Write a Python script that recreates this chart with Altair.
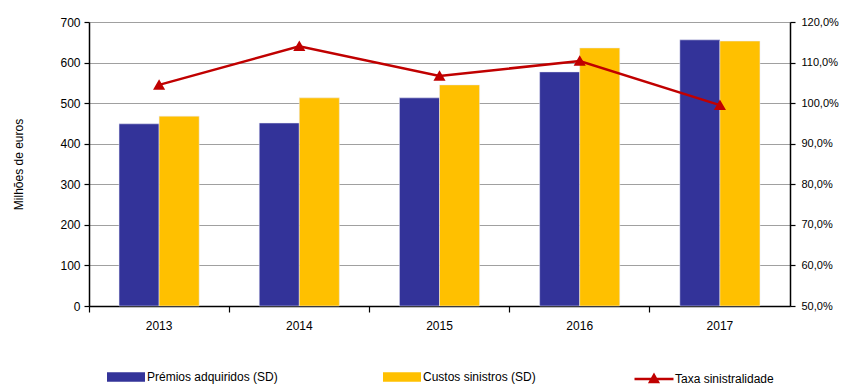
import altair as alt
import pandas as pd

years = ["2013", "2014", "2015", "2016", "2017"]
premios = [449, 451, 513, 577, 656]
custos = [468, 513, 545, 636, 653]
taxa = [1.045, 1.140, 1.067, 1.104, 0.995]

s_prem = "Prémios adquiridos (SD)"
s_cust = "Custos sinistros (SD)"
s_taxa = "Taxa sinistralidade"

bars_df = pd.DataFrame({
    "ano": years * 2,
    "serie": [s_prem] * len(years) + [s_cust] * len(years),
    "valor": premios + custos,
})
line_df = pd.DataFrame({"ano": years, "taxa": taxa, "serie": [s_taxa] * len(years)})

FONT = "Liberation Sans"

x_enc = alt.X(
    "ano:N",
    title=None,
    scale=alt.Scale(paddingInner=0, paddingOuter=0),
    axis=alt.Axis(
        labelAngle=0, bandPosition=0, labelOffset=0, tickSize=6,
        domainColor="black", tickColor="black", labelPadding=8,
        labelFontSize=12, labelColor="black", labelFont=FONT,
    ),
)

bars = alt.Chart(bars_df).mark_bar(stroke="#e8e8f4", strokeWidth=0.5).encode(
    x=x_enc,
    xOffset=alt.XOffset("serie:N", sort=[s_prem, s_cust],
                        scale=alt.Scale(paddingOuter=0.75, paddingInner=0)),
    y=alt.Y(
        "valor:Q",
        title="Milhões de euros",
        scale=alt.Scale(domain=[0, 700], nice=False),
        axis=alt.Axis(
            values=[0, 100, 200, 300, 400, 500, 600, 700], grid=True,
            gridColor="#a0a0a0", gridWidth=1.2, domainColor="black",
            tickColor="black", tickSize=5, labelFontSize=12, labelColor="black",
            labelFont=FONT, titleFont=FONT, titleFontSize=12,
            titleFontWeight="normal", titleColor="black", titlePadding=34,
            labelPadding=4,
        ),
    ),
    color=alt.Color(
        "serie:N",
        sort=[s_prem, s_cust],
        scale=alt.Scale(domain=[s_prem, s_cust], range=["#333399", "#FFC000"]),
        legend=alt.Legend(
            title=None, orient="none", direction="horizontal", columns=2,
            legendX=18, legendY=336, symbolType="M-1,-0.25L1,-0.25L1,0.25L-1,0.25Z",
            symbolSize=1444, symbolStrokeWidth=0, labelFontSize=12, labelFont=FONT,
            labelColor="black", labelOffset=2, columnPadding=105, padding=0,
            labelLimit=300,
        ),
    ),
)

line = alt.Chart(line_df).mark_line(
    color="#C00000", strokeWidth=2.5,
    point=alt.OverlayMarkDef(shape="triangle-up", size=75, filled=True, color="#C00000"),
).encode(
    x=x_enc,
    y=alt.Y(
        "taxa:Q",
        title=None,
        scale=alt.Scale(domain=[0.5, 1.2], nice=False, zero=False),
        axis=alt.Axis(
            orient="right", values=[0.5, 0.6, 0.7, 0.8, 0.9, 1.0, 1.1, 1.2],
            labelExpr="replace(format(datum.value, '.1%'), '.', ',')",
            grid=False, domainColor="black", tickColor="black", tickSize=5,
            labelFontSize=11, labelColor="black", labelFont=FONT, labelPadding=6,
        ),
    ),
    stroke=alt.Stroke(
        "serie:N",
        scale=alt.Scale(domain=[s_taxa], range=["#C00000"]),
        legend=alt.Legend(
            title=None, orient="none", legendX=544, legendY=336,
            symbolType="M-1,0L1,0M-0.2,0.15L0,-0.2L0.2,0.15Z",
            symbolSize=1521, symbolStrokeWidth=2.5, symbolFillColor="#C00000",
            labelFontSize=12, labelFont=FONT, labelColor="black", labelOffset=0,
            padding=0,
        ),
    ),
)

chart = alt.layer(bars, line).resolve_scale(
    y="independent", color="independent"
).properties(
    width=701, height=284,
    autosize=alt.AutoSizeParams(type="none"),
    padding={"left": 81, "top": 14, "right": 50, "bottom": 79},
).configure_view(stroke=None).configure_axis(domainWidth=1.5, tickWidth=1.2)

chart.save("out.html", embed_options={"renderer": "svg", "actions": False})
